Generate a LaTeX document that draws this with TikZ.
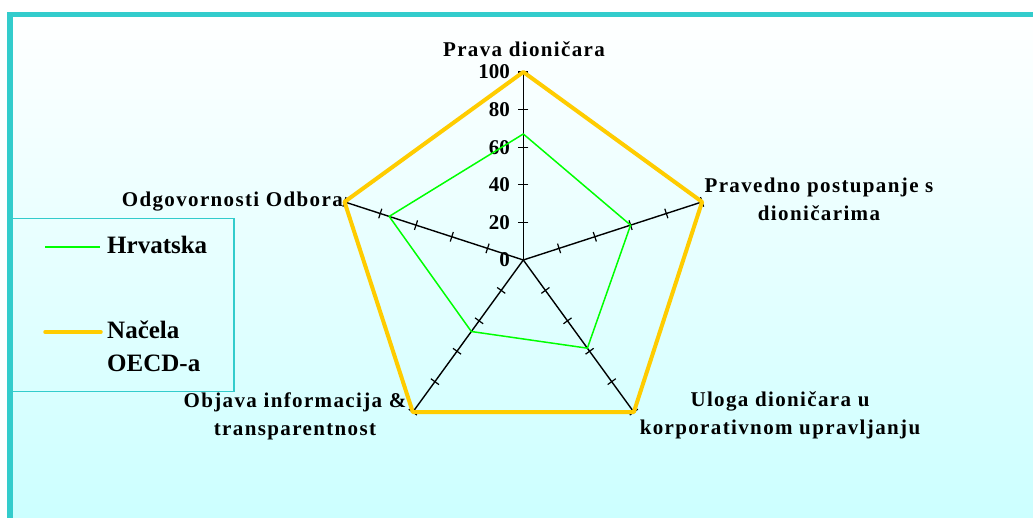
\documentclass[tikz,border=0pt]{standalone}
\usepackage{fontspec}
\setmainfont{Liberation Serif}
\newfontfamily\lblfont{Liberation Serif}[LetterSpace=6.5]
\usetikzlibrary{positioning, calc}
\definecolor{bord-teal}{RGB}{51,204,204}
\definecolor{bg-cyan}{RGB}{204,255,255}
\definecolor{hrv-green}{RGB}{0,255,0}
\definecolor{oecd-gold}{RGB}{255,204,0}

\begin{document}
\begin{tikzpicture}[x=1pt, y=1pt]
      \tikzset{ axln/.style  ={draw=black,      line width=1.4pt                                                    } }
      \tikzset{ hrv/.style   ={draw=hrv-green,  line width=1.5pt, line join=round                                   } }
      \tikzset{ oecd/.style  ={draw=oecd-gold,  line width=4pt,   line join=round                                   } }
      \tikzset{ axlbl/.style ={text=black, align=center, inner sep=0pt, font=\lblfont\bfseries\fontsize{21}{28}\selectfont} }
      \tikzset{ num/.style   ={text=black, anchor=east, inner sep=0pt, font=\bfseries\fontsize{21}{25}\selectfont        } }
      \tikzset{ leg/.style   ={text=black, align=left, anchor=base west, inner sep=0pt, font=\bfseries\fontsize{25}{33}\selectfont} }
      \tikzset{ legbox/.style={draw=bord-teal, line width=1.5pt, minimum width=221.5pt, minimum height=173.4pt, inner sep=0pt} }

      \path[use as bounding box] (0, 0) rectangle (1033, 518);
      \fill[white] (0, 0) rectangle (1033, 518);
      \shade[top color=white, bottom color=bg-cyan] (10, 0) rectangle (1033, 503.5);
      \draw[bord-teal, line width=5.5pt] (10, 0) -- (10, 503.5) -- (1033, 503.5);

      % axes
      \coordinate (c)  at (523.3, 258);
      \coordinate (pr) at ($(c)+(90:188)$);
      \coordinate (pp) at ($(c)+(18:188)$);
      \coordinate (ul) at ($(c)+(-54:188)$);
      \coordinate (oi) at ($(c)+(-126:188)$);
      \coordinate (od) at ($(c)+(162:188)$);
      \draw[axln] (c) -- (pr);
      \draw[axln] (c) -- (pp);
      \draw[axln] (c) -- (ul);
      \draw[axln] (c) -- (oi);
      \draw[axln] (c) -- (od);
      \foreach \ang in {90,18,-54,-126,162}
        \foreach \r in {37.6,75.2,112.8,150.4,188}
          \draw[axln, line width=1.2pt, shift={(c)}, rotate=\ang] (\r,-5) -- (\r,5);

      \node[num] (n0)   at (510, 258.0) {0};
      \node[num] (n20)  at (510, 295.6) {20};
      \node[num] (n40)  at (510, 333.2) {40};
      \node[num] (n60)  at (510, 370.8) {60};
      \node[num] (n80)  at (510, 408.4) {80};
      \node[num] (n100) at (510, 446.0) {100};

      % Hrvatska
      \coordinate (hpr) at ($(c)+(90:126)$);
      \coordinate (hpp) at ($(c)+(18:112.8)$);
      \coordinate (hul) at ($(c)+(-54:109)$);
      \coordinate (hoi) at ($(c)+(-126:88.4)$);
      \coordinate (hod) at ($(c)+(162:141)$);
      \draw[hrv] (hpr) -- (hpp) -- (hul) -- (hoi) -- (hod) -- cycle;

      % Nacela OECD-a
      \draw[oecd] (pr) -- (pp) -- (ul) -- (oi) -- (od) -- cycle;

      \node[axlbl, anchor=base     ] (lpr) at (524, 461) {Prava dioničara};
      \node[axlbl, anchor=base     ] (lpp) at (819, 297) {Pravedno postupanje s\\dioničarima};
      \node[axlbl, anchor=base     ] (lul) at (780, 83)  {Uloga dioničara u\\korporativnom upravljanju};
      \node[axlbl, anchor=base     ] (loi) at (295, 82)  {Objava informacija \&\\transparentnost};
      \node[axlbl, anchor=base east] (lod) at (343, 311) {Odgovornosti Odbora};

      % legend
      \node[legbox] (leg) at (123.25, 213) {};
      \coordinate (lg1) at (45, 271);
      \coordinate (lg2) at (100, 271);
      \coordinate (lo1) at (45, 186);
      \coordinate (lo2) at (101, 186);
      \draw[hrv, line width=2pt] (lg1) -- (lg2);
      \draw[oecd, line width=3.5pt, line cap=round] (lo1) -- (lo2);
      \node[leg] (lhrv)  at (107, 264) {Hrvatska};
      \node[leg] (loecd) at (107, 146) {Načela\\OECD-a};
    \end{tikzpicture}
\end{document}
